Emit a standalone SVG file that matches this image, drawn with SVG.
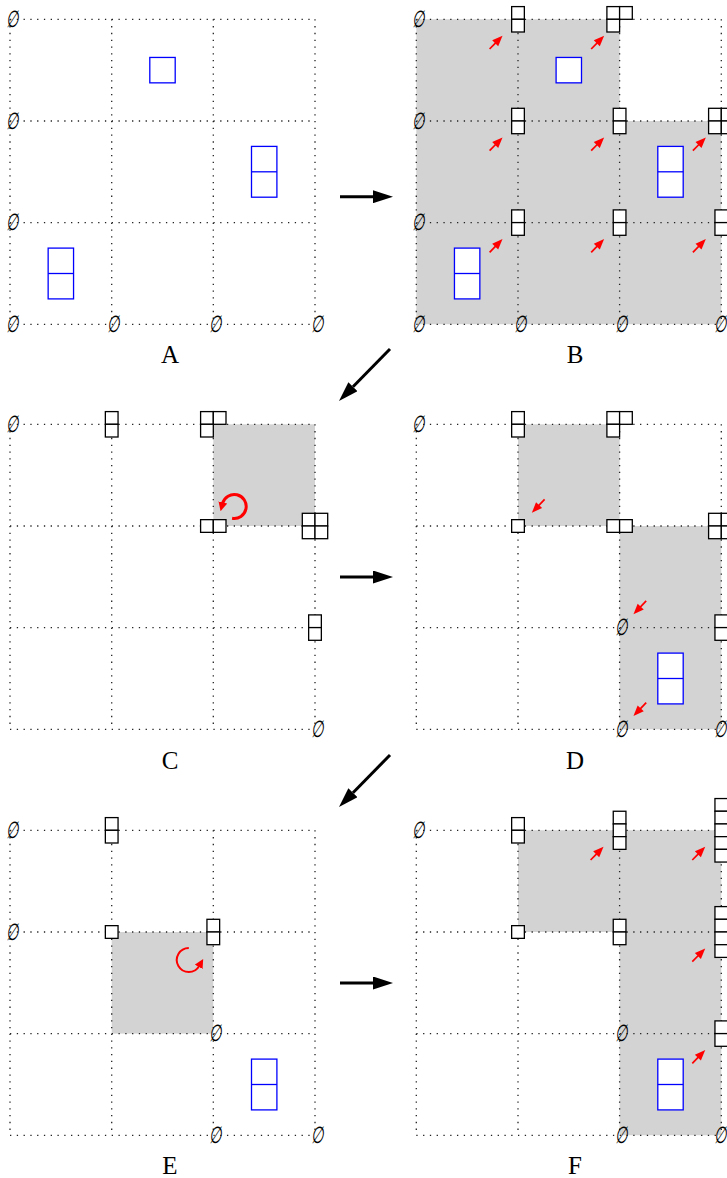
<svg xmlns="http://www.w3.org/2000/svg" width="727" height="1178" viewBox="0 0 727 1178">
<style>
.lbl{font-family:"Liberation Serif","DejaVu Serif",serif;font-size:25px;text-anchor:middle;fill:#000}
.es{font-family:"DejaVu Serif","Liberation Serif",serif;font-style:italic;font-size:18px;text-anchor:middle;dominant-baseline:central;fill:#000}
.gray{fill:#d3d3d3;stroke:none}
.conn{stroke:#000;stroke-width:3;fill:none}
.circ{stroke:#f00;fill:none}
</style>
<defs>
<path id="grid" fill="none" stroke="#222" stroke-width="1.3" stroke-dasharray="1.3 5.48" d="M0,0H305M0,101.7H305M0,203.3H305M0,305H305M0,0V305M101.7,0V305M203.3,0V305M305,0V305"/>
<g id="bs" fill="#fff" stroke="#00f" stroke-width="1.3"><rect x="-12.7" y="-12.7" width="25.4" height="25.4"/></g>
<g id="bd" fill="#fff" stroke="#00f" stroke-width="1.3"><rect x="-12.7" y="-25.4" width="25.4" height="50.8"/><path d="M-12.7,0H12.7"/></g>
<g id="y1" fill="#fff" stroke="#000" stroke-width="1.3"><rect x="-6.35" y="-6.35" width="12.7" height="12.7"/></g>
<g id="y11" fill="#fff" stroke="#000" stroke-width="1.3"><rect x="-6.35" y="-12.7" width="12.7" height="12.7"/><rect x="-6.35" y="0" width="12.7" height="12.7"/></g>
<g id="y2" fill="#fff" stroke="#000" stroke-width="1.3"><rect x="-12.7" y="-6.35" width="12.7" height="12.7"/><rect x="0" y="-6.35" width="12.7" height="12.7"/></g>
<g id="y21" fill="#fff" stroke="#000" stroke-width="1.3"><rect x="-12.7" y="-12.7" width="12.7" height="12.7"/><rect x="0" y="-12.7" width="12.7" height="12.7"/><rect x="-12.7" y="0" width="12.7" height="12.7"/></g>
<g id="y22" fill="#fff" stroke="#000" stroke-width="1.3"><rect x="-12.7" y="-12.7" width="12.7" height="12.7"/><rect x="0" y="-12.7" width="12.7" height="12.7"/><rect x="-12.7" y="0" width="12.7" height="12.7"/><rect x="0" y="0" width="12.7" height="12.7"/></g>
<g id="y111" fill="#fff" stroke="#000" stroke-width="1.3"><rect x="-6.35" y="-19.05" width="12.7" height="12.7"/><rect x="-6.35" y="-6.35" width="12.7" height="12.7"/><rect x="-6.35" y="6.35" width="12.7" height="12.7"/></g>
<g id="y1111" fill="#fff" stroke="#000" stroke-width="1.3"><rect x="-6.35" y="-25.4" width="12.7" height="12.7"/><rect x="-6.35" y="-12.7" width="12.7" height="12.7"/><rect x="-6.35" y="0" width="12.7" height="12.7"/><rect x="-6.35" y="12.7" width="12.7" height="12.7"/></g>
<g id="y11111" fill="#fff" stroke="#000" stroke-width="1.3"><rect x="-6.35" y="-31.75" width="12.7" height="12.7"/><rect x="-6.35" y="-19.05" width="12.7" height="12.7"/><rect x="-6.35" y="-6.35" width="12.7" height="12.7"/><rect x="-6.35" y="6.35" width="12.7" height="12.7"/><rect x="-6.35" y="19.05" width="12.7" height="12.7"/></g>
<g id="rarr"><path d="M0,0H9" stroke="#f00" stroke-width="1.7"/><path d="M8,-4.2L18.5,0L8,4.2Z" fill="#f00"/></g>
<marker id="ah" markerUnits="userSpaceOnUse" markerWidth="20" markerHeight="13" refX="0" refY="6.5" orient="auto"><path d="M0,0L20,6.5L0,13Z" fill="#000"/></marker>
<marker id="rc" markerUnits="userSpaceOnUse" markerWidth="9" markerHeight="9" refX="1" refY="4.5" orient="auto"><path d="M0,0L9,4.5L0,9Z" fill="#f00"/></marker>
</defs>

<g id="panelA" transform="translate(10,19.3)">
<use href="#grid"/>
<use href="#bs" x="152.5" y="50.85"/>
<use href="#bd" x="254.2" y="152.5"/>
<use href="#bd" x="50.85" y="254.2"/>
<text class="es" transform="translate(2,0) scale(0.8,1.3)">∅</text>
<text class="es" transform="translate(2,101.7) scale(0.8,1.3)">∅</text>
<text class="es" transform="translate(2,203.3) scale(0.8,1.3)">∅</text>
<text class="es" transform="translate(2,305) scale(0.8,1.3)">∅</text>
<text class="es" transform="translate(103.7,305) scale(0.8,1.3)">∅</text>
<text class="es" transform="translate(205.3,305) scale(0.8,1.3)">∅</text>
<text class="es" transform="translate(307,305) scale(0.8,1.3)">∅</text>
</g>
<text id="labelA" class="lbl" x="170" y="362.5">A</text>

<g id="panelB" transform="translate(416.3,19.3)">
<path class="gray" d="M0,0H203.3V101.7H305V305H0Z"/>
<use href="#grid"/>
<use href="#bs" x="152.5" y="50.85"/>
<use href="#bd" x="254.2" y="152.5"/>
<use href="#bd" x="50.85" y="254.2"/>
<use href="#y11" x="101.7" y="0"/><use href="#y21" x="203.3" y="0"/>
<use href="#y11" x="101.7" y="101.7"/><use href="#y11" x="203.3" y="101.7"/><use href="#y22" x="305" y="101.7"/>
<use href="#y11" x="101.7" y="203.3"/><use href="#y11" x="203.3" y="203.3"/><use href="#y11" x="305" y="203.3"/>
<text class="es" transform="translate(2,0) scale(0.8,1.3)">∅</text>
<text class="es" transform="translate(2,101.7) scale(0.8,1.3)">∅</text>
<text class="es" transform="translate(2,203.3) scale(0.8,1.3)">∅</text>
<text class="es" transform="translate(2,305) scale(0.8,1.3)">∅</text>
<text class="es" transform="translate(103.7,305) scale(0.8,1.3)">∅</text>
<text class="es" transform="translate(205.3,305) scale(0.8,1.3)">∅</text>
<text class="es" transform="translate(304.5,305) scale(0.8,1.3)">∅</text>
<use href="#rarr" transform="translate(73.3,29.7) rotate(-45.7)"/>
<use href="#rarr" transform="translate(174.9,29.7) rotate(-45.7)"/>
<use href="#rarr" transform="translate(73.3,131.4) rotate(-45.7)"/>
<use href="#rarr" transform="translate(174.9,131.4) rotate(-45.7)"/>
<use href="#rarr" transform="translate(276.6,131.4) rotate(-45.7)"/>
<use href="#rarr" transform="translate(73.3,233) rotate(-45.7)"/>
<use href="#rarr" transform="translate(174.9,233) rotate(-45.7)"/>
<use href="#rarr" transform="translate(276.6,233) rotate(-45.7)"/>
</g>
<text id="labelB" class="lbl" x="575" y="362.5">B</text>

<g id="panelC" transform="translate(10,424.3)">
<rect class="gray" x="203.3" y="0" width="101.7" height="101.7"/>
<use href="#grid"/>
<use href="#y11" x="101.7" y="0"/><use href="#y21" x="203.3" y="0"/>
<use href="#y2" x="203.3" y="101.7"/><use href="#y22" x="305" y="101.7"/>
<use href="#y11" x="305" y="203.3"/>
<text class="es" transform="translate(2,0) scale(0.8,1.3)">∅</text>
<text class="es" transform="translate(307,305) scale(0.8,1.3)">∅</text>
<path class="circ" stroke-width="3" marker-end="url(#rc)" d="M222.1,94 A12,12 0 1 0 212.6,79.1"/>
</g>
<text id="labelC" class="lbl" x="170" y="769">C</text>

<g id="panelD" transform="translate(416.3,424.3)">
<rect class="gray" x="101.7" y="0" width="101.6" height="101.7"/>
<rect class="gray" x="203.3" y="101.7" width="101.7" height="203.3"/>
<use href="#grid"/>
<use href="#bd" x="254.2" y="254.2"/>
<use href="#y11" x="101.7" y="0"/><use href="#y21" x="203.3" y="0"/>
<use href="#y1" x="101.7" y="101.7"/><use href="#y2" x="203.3" y="101.7"/><use href="#y22" x="305" y="101.7"/>
<use href="#y11" x="305" y="203.3"/>
<text class="es" transform="translate(2,0) scale(0.8,1.3)">∅</text>
<text class="es" transform="translate(205.3,203.3) scale(0.8,1.3)">∅</text>
<text class="es" transform="translate(205.3,305) scale(0.8,1.3)">∅</text>
<text class="es" transform="translate(304.5,305) scale(0.8,1.3)">∅</text>
<use href="#rarr" transform="translate(128.3,75) rotate(133.5)"/>
<use href="#rarr" transform="translate(229.9,176.6) rotate(133.5)"/>
<use href="#rarr" transform="translate(229.9,278.3) rotate(133.5)"/>
</g>
<text id="labelD" class="lbl" x="575" y="769">D</text>

<g id="panelE" transform="translate(10,830.3)">
<rect class="gray" x="101.7" y="101.7" width="101.6" height="101.6"/>
<use href="#grid"/>
<use href="#bd" x="254.2" y="254.2"/>
<use href="#y11" x="101.7" y="0"/><use href="#y1" x="101.7" y="101.7"/><use href="#y11" x="203.3" y="101.7"/>
<text class="es" transform="translate(2,0) scale(0.8,1.3)">∅</text>
<text class="es" transform="translate(2,101.7) scale(0.8,1.3)">∅</text>
<text class="es" transform="translate(205.3,203.3) scale(0.8,1.3)">∅</text>
<text class="es" transform="translate(205.3,305) scale(0.8,1.3)">∅</text>
<text class="es" transform="translate(307,305) scale(0.8,1.3)">∅</text>
<path class="circ" stroke-width="2" marker-end="url(#rc)" d="M178.8,117.7 A12,12 0 1 0 189.2,135.7"/>
</g>
<text id="labelE" class="lbl" x="170" y="1174">E</text>

<g id="panelF" transform="translate(416.3,830.3)">
<path class="gray" d="M101.7,0H305V305H203.3V101.7H101.7Z"/>
<use href="#grid"/>
<use href="#bd" x="254.2" y="254.2"/>
<use href="#y11" x="101.7" y="0"/><use href="#y111" x="203.3" y="0"/><use href="#y11111" x="305" y="0"/>
<use href="#y1" x="101.7" y="101.7"/><use href="#y11" x="203.3" y="101.7"/><use href="#y1111" x="305" y="101.7"/>
<use href="#y11" x="305" y="203.3"/>
<text class="es" transform="translate(2,0) scale(0.8,1.3)">∅</text>
<text class="es" transform="translate(205.3,203.3) scale(0.8,1.3)">∅</text>
<text class="es" transform="translate(205.3,305) scale(0.8,1.3)">∅</text>
<text class="es" transform="translate(304.5,305) scale(0.8,1.3)">∅</text>
<use href="#rarr" transform="translate(174.3,29.7) rotate(-45.7)"/>
<use href="#rarr" transform="translate(276,29.7) rotate(-45.7)"/>
<use href="#rarr" transform="translate(276,131.4) rotate(-45.7)"/>
<use href="#rarr" transform="translate(276,233) rotate(-45.7)"/>
</g>
<text id="labelF" class="lbl" x="575" y="1174">F</text>

<g id="connectors">
<path id="AtoB" class="conn" marker-end="url(#ah)" d="M340,196.7H373"/>
<path id="BtoC" class="conn" marker-end="url(#ah)" d="M390,349L353,386.7"/>
<path id="CtoD" class="conn" marker-end="url(#ah)" d="M340,577H373"/>
<path id="DtoE" class="conn" marker-end="url(#ah)" d="M390,755L353,792.7"/>
<path id="EtoF" class="conn" marker-end="url(#ah)" d="M340,983H373"/>
</g>
</svg>
